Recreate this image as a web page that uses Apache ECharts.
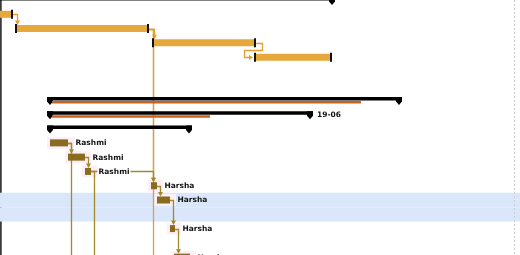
<!DOCTYPE html>
<html><head><meta charset="utf-8">
<script src="https://cdn.jsdelivr.net/npm/echarts@6/dist/echarts.min.js"></script>
<style>html,body{margin:0;padding:0;background:#fff}#c{width:520px;height:255px}</style>
</head><body><div id="c"></div>
<script>
// ---- data ----
const taskRows = [1, 2, 3, 4];
const taskStart = [-8, 15, 152, 254];
const taskEnd = [13, 149, 256, 332];

const sumRows = [0, 7, 8, 9];
const sumStart = [-20, 47, 47, 47];
const sumEnd = [335, 402, 313, 192];
const sumProgress = [null, 361, 210, null];
const sumLabels = ['', '', '19-06', ''];

const resRows = [10, 11, 12, 13, 14, 16, 18];
const resStart = [50, 68, 85, 151, 157, 170, 174];
const resEnd = [68, 85, 91, 157, 170, 175, 190];
const resNames = ['Rashmi', 'Rashmi', 'Rashmi', 'Harsha', 'Harsha', 'Harsha', 'Harsha'];

const bandRows = [14, 15];
const taskDeps = [[0, 1], [1, 2], [2, 3]];        // task -> task
const resDeps = [[0, 1], [1, 2], [3, 4], [4, 5], [5, 6]]; // resource task -> resource task
const crossDeps = [[1, 3]];                        // task -> resource task
const resSelfDeps = [[2, 3]];                      // resource task -> resource task (long)
const offRow = 24;                                 // successors below the visible area
const offFromRes = [0, 2];
const offFromTask = [1];
const todayX = 514;

// ---- styles ----
const ORANGE = '#e6a83a', OLIVE = '#8a6c1e', PROG = '#c8641e';
const LINK_COLORS = ['#e59f2e', '#d2a34a', '#a28a2c'];

// links: [fromRow, fromEnd, toRow, toStart, gap, colorIdx]
const links = [];
taskDeps.forEach(([a, b]) => links.push([taskRows[a], taskEnd[a], taskRows[b], taskStart[b], 4, 0]));
crossDeps.forEach(([a, b]) => links.push([taskRows[a], taskEnd[a], resRows[b], resStart[b], 4, 1]));
offFromTask.forEach(a => links.push([taskRows[a], taskEnd[a], offRow, taskEnd[a], 4, 1]));
resDeps.forEach(([a, b]) => links.push([resRows[a], resEnd[a], resRows[b], resStart[b], 3, 2]));
resSelfDeps.forEach(([a, b]) => links.push([resRows[a], resEnd[a], resRows[b], resStart[b], 3, 2]));
offFromRes.forEach(a => links.push([resRows[a], resEnd[a], offRow, resEnd[a], 3, 2]));

const px = v => Math.round(v) + 0.5;

function bandItem(params, api) {
  const r = api.value(0);
  const h = api.size([0, 1])[1];
  const cy = api.coord([0, r])[1];
  const cs = params.coordSys;
  return { type: 'rect', shape: { x: cs.x, y: cy - h / 2, width: cs.width, height: h },
    style: { fill: '#dae7fb' } };
}

function taskItem(params, api) {
  const r = api.value(0), s = api.value(1), e = api.value(2);
  const p0 = api.coord([s, r]), p1 = api.coord([e, r]);
  const cy = p0[1];
  return { type: 'group', children: [
    { type: 'rect', shape: { x: p0[0], y: cy - 3.5, width: p1[0] - p0[0], height: 7 }, style: { fill: ORANGE } },
    { type: 'rect', shape: { x: p0[0], y: cy - 4.5, width: 2, height: 9 }, style: { fill: '#111' } },
    { type: 'rect', shape: { x: p1[0] - 2, y: cy - 4.5, width: 2, height: 9 }, style: { fill: '#111' } }
  ] };
}

function sumItem(params, api) {
  const i = params.dataIndex;
  const r = api.value(0), s = api.value(1), e = api.value(2);
  const p0 = api.coord([s, r]), p1 = api.coord([e, r]);
  const cy = p0[1];
  const top = cy - 3, bot = cy + 0.5;
  const mark = (x) => ({ type: 'polygon', shape: { points: [[x - 3, top], [x + 3, top], [x + 3, cy + 1.5], [x, cy + 5], [x - 3, cy + 1.5]] }, style: { fill: '#000' } });
  const ch = [
    { type: 'rect', shape: { x: p0[0], y: top, width: p1[0] - p0[0], height: bot - top }, style: { fill: '#000' } },
    mark(p0[0] + 3), mark(p1[0] - 3)
  ];
  if (sumProgress[i] != null) {
    const pp = api.coord([sumProgress[i], r]);
    ch.push({ type: 'rect', shape: { x: p0[0] + 5, y: cy + 1, width: pp[0] - p0[0] - 5, height: 2.5 }, style: { fill: PROG } });
  }
  if (sumLabels[i]) {
    ch.push({ type: 'text', style: { text: sumLabels[i], x: p1[0] + 4, y: cy + 1, fill: '#111',
      font: 'bold 7.5px "DejaVu Sans"', verticalAlign: 'middle', align: 'left' } });
  }
  return { type: 'group', children: ch };
}

function resHaloItem(params, api) {
  const r = api.value(0), s = api.value(1), e = api.value(2);
  const p0 = api.coord([s, r]), p1 = api.coord([e, r]);
  const cy = p0[1];
  return { type: 'rect', shape: { x: p0[0] - 3, y: cy - 6, width: p1[0] - p0[0] + 9, height: 12 }, style: { fill: '#fdeef8' } };
}

function resItem(params, api) {
  const i = params.dataIndex;
  const r = api.value(0), s = api.value(1), e = api.value(2);
  const p0 = api.coord([s, r]), p1 = api.coord([e, r]);
  const cy = p0[1];
  const inBand = bandRows.indexOf(r) >= 0;
  return { type: 'group', children: [
    { type: 'rect', shape: { x: p0[0], y: cy - 3.5, width: p1[0] - p0[0], height: 7 }, style: { fill: OLIVE } },
    { type: 'text', style: { text: resNames[i], x: p1[0] + 6.5, y: cy + 0.5, fill: '#111',
      font: 'bold 7.5px "DejaVu Sans"', verticalAlign: 'middle', align: 'left',
      backgroundColor: inBand ? 'transparent' : '#fff', padding: [1, 1] } }
  ] };
}

function linkItem(params, api) {
  const fr = api.value(0), fe = api.value(1), tr = api.value(2), ts = api.value(3), gap = api.value(4), ci = api.value(5);
  const rowPx = api.size([0, 1])[1];
  const col = LINK_COLORS[ci];
  const p0 = api.coord([fe, fr]);
  const y0 = px(p0[1]);
  const ls = { stroke: col, lineWidth: 1.3, fill: null };
  if (fe - ts > 1.5) {
    const ptT = api.coord([ts, tr]);
    const xr = px(p0[0] + 6), xl = px(ptT[0] - 10), ym = px(p0[1] + rowPx / 2), yt = px(ptT[1]);
    const tip = ptT[0] - 1;
    return { type: 'group', children: [
      { type: 'polyline', shape: { points: [[p0[0], y0], [xr, y0], [xr, ym], [xl, ym], [xl, yt], [tip - 3, yt]] }, style: ls },
      { type: 'polygon', shape: { points: [[tip - 4, yt - 2.5], [tip - 4, yt + 2.5], [tip, yt]] }, style: { fill: col } }
    ] };
  }
  const ex = Math.max(fe + gap, ts + 2);
  const xe = px(api.coord([ex, fr])[0]);
  const yt = api.coord([ex, tr])[1] - 3.5;
  return { type: 'group', children: [
    { type: 'polyline', shape: { points: [[p0[0], y0], [xe, y0], [xe, yt - 3]] }, style: ls },
    { type: 'polygon', shape: { points: [[xe - 2.5, yt - 4.5], [xe + 2.5, yt - 4.5], [xe, yt]] }, style: { fill: col } }
  ] };
}

const chart = echarts.init(document.getElementById('c'), null, { renderer: 'canvas' });
chart.setOption({
  animation: false,
  grid: { left: 0, right: 0, top: 0, bottom: 0 },
  xAxis: { type: 'value', min: 0, max: 520, show: false },
  yAxis: { type: 'value', min: 0, max: 17.85, inverse: true,
    axisLine: { show: true, lineStyle: { color: '#3a3a3a', width: 2.5 } },
    axisTick: { show: false }, axisLabel: { show: false }, splitLine: { show: false } },
  series: [
    { type: 'custom', renderItem: bandItem, data: bandRows.map(r => [r]), z: 1, silent: true,
      markLine: { silent: true, symbol: 'none', label: { show: false },
        lineStyle: { color: '#cfcfcf', type: [2, 2], width: 1 }, data: [{ xAxis: todayX }] } },
    { type: 'custom', renderItem: resHaloItem, data: resRows.map((r, i) => [r, resStart[i], resEnd[i]]), z: 2, silent: true },
    { type: 'custom', renderItem: linkItem, data: links, z: 3, silent: true, clip: true },
    { type: 'custom', renderItem: taskItem, data: taskRows.map((r, i) => [r, taskStart[i], taskEnd[i]]), z: 4, silent: true, clip: true },
    { type: 'custom', renderItem: sumItem, data: sumRows.map((r, i) => [r, sumStart[i], sumEnd[i]]), z: 4, silent: true, clip: true },
    { type: 'custom', renderItem: resItem, data: resRows.map((r, i) => [r, resStart[i], resEnd[i]]), z: 5, silent: true, clip: true }
  ]
});
</script></body></html>
